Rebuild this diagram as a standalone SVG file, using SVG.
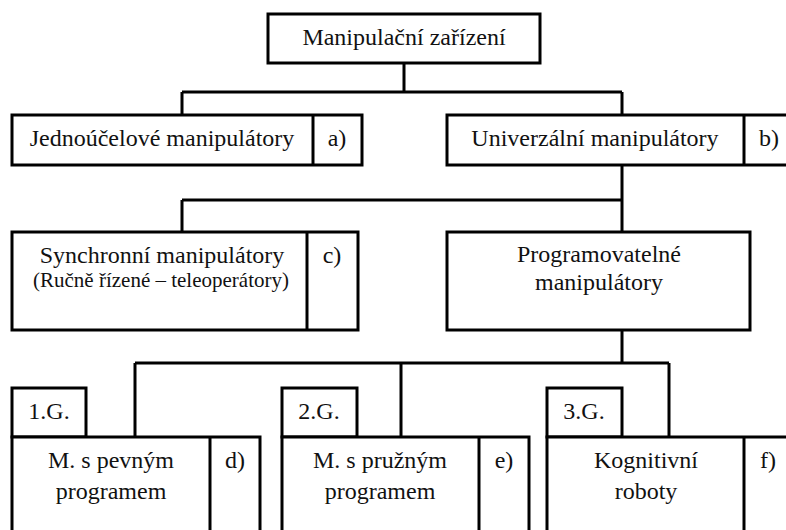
<svg xmlns="http://www.w3.org/2000/svg" width="786" height="530" viewBox="0 0 786 530">
  <style>
    .box { fill: #fff; stroke: #000; stroke-width: 3; }
    .line { fill: none; stroke: #000; stroke-width: 3; }
    .lbl { font-family: 'Liberation Serif', Tinos, 'Times New Roman', 'DejaVu Serif', serif; font-size: 24px; fill: #111; text-anchor: middle; }
    .small { font-size: 21px; }
  </style>
  <rect width="786" height="530" fill="#fff"/>

  <!-- tree connectors -->
  <g id="connectors" class="line">
    <path d="M404 63 V92 M182 92 H622 M182 92 V115 M622 92 V115"/>
    <path d="M622 165 V200 M182 200 H622 M182 200 V232 M622 200 V232"/>
    <path d="M622 330 V363 M135 363 H669 M135 363 V437 M401 363 V437 M669 363 V437"/>
  </g>

  <g id="root">
    <rect class="box" x="268" y="14" width="272" height="49"/>
    <text class="lbl" x="404" y="45">Manipulační zařízení</text>
  </g>

  <g id="jednoucelove">
    <rect class="box" x="12" y="115" width="350" height="50"/>
    <line class="line" x1="313" y1="115" x2="313" y2="165"/>
    <text class="lbl" x="162" y="146">Jednoúčelové manipulátory</text>
    <text class="lbl" x="337" y="146">a)</text>
  </g>

  <g id="univerzalni">
    <rect class="box" x="447" y="115" width="350" height="50"/>
    <line class="line" x1="744" y1="115" x2="744" y2="165"/>
    <text class="lbl" x="595" y="146">Univerzální manipulátory</text>
    <text class="lbl" x="769" y="146">b)</text>
  </g>

  <g id="synchronni">
    <rect class="box" x="12" y="232" width="346" height="98"/>
    <line class="line" x1="307" y1="232" x2="307" y2="330"/>
    <text class="lbl" x="162" y="263">Synchronní manipulátory</text>
    <text class="lbl small" x="161" y="287">(Ručně řízené – teleoperátory)</text>
    <text class="lbl" x="332" y="263">c)</text>
  </g>

  <g id="programovatelne">
    <rect class="box" x="447" y="232" width="303" height="98"/>
    <text class="lbl" x="599" y="262">Programovatelné</text>
    <text class="lbl" x="599" y="290">manipulátory</text>
  </g>

  <g id="gen1">
    <rect class="box" x="12" y="388" width="74" height="49"/>
    <text class="lbl" x="49" y="419">1.G.</text>
    <rect class="box" x="12" y="437" width="248" height="110"/>
    <line class="line" x1="210" y1="437" x2="210" y2="547"/>
    <text class="lbl" x="111" y="468">M. s pevným</text>
    <text class="lbl" x="111" y="499">programem</text>
    <text class="lbl" x="235" y="468">d)</text>
  </g>

  <g id="gen2">
    <rect class="box" x="282" y="388" width="75" height="49"/>
    <text class="lbl" x="319" y="419">2.G.</text>
    <rect class="box" x="282" y="437" width="247" height="110"/>
    <line class="line" x1="479" y1="437" x2="479" y2="547"/>
    <text class="lbl" x="380" y="468">M. s pružným</text>
    <text class="lbl" x="380" y="499">programem</text>
    <text class="lbl" x="504" y="468">e)</text>
  </g>

  <g id="gen3">
    <rect class="box" x="547" y="388" width="75" height="49"/>
    <text class="lbl" x="584" y="419">3.G.</text>
    <rect class="box" x="547" y="437" width="250" height="110"/>
    <line class="line" x1="744" y1="437" x2="744" y2="547"/>
    <text class="lbl" x="646" y="468">Kognitivní</text>
    <text class="lbl" x="646" y="499">roboty</text>
    <text class="lbl" x="768" y="468">f)</text>
  </g>
</svg>
